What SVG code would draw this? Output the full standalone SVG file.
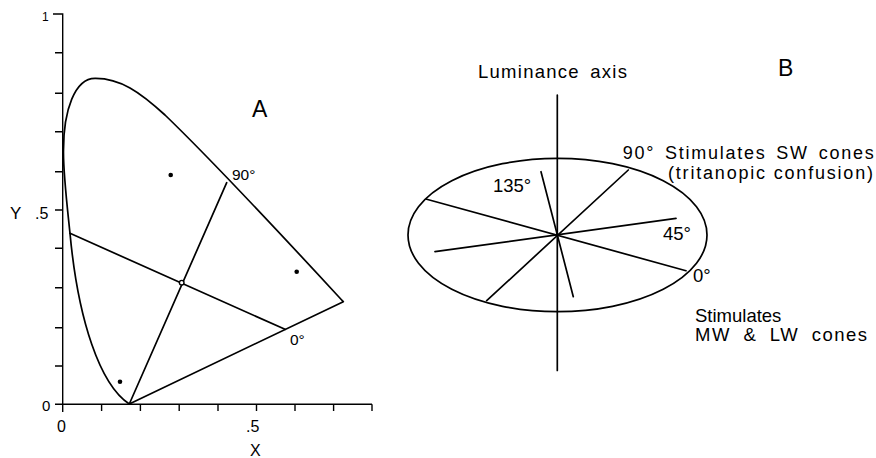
<svg xmlns="http://www.w3.org/2000/svg" width="876" height="458" viewBox="0 0 876 458">
<style>
.ln{fill:none;stroke:#000;stroke-width:1.7;stroke-linecap:round;stroke-linejoin:round}
.ax{fill:none;stroke:#000;stroke-width:1.4}
.t{font-family:"Liberation Sans",Arial,sans-serif;fill:#000}
.dot{fill:#000}
</style>
<rect width="876" height="458" fill="#fff"/>
<g id="panelA">
  <g id="axes">
    <path class="ax" d="M53,14 H62.7 V412 M55,404.3 H372"/>
    <path class="ax" d="M55,52.7H62.7 M55,93.3H62.7 M55,131.7H62.7 M55,171.7H62.7 M55,210H62.7 M55,248.3H62.7 M55,287.7H62.7 M55,327.7H62.7 M55,366H62.7"/>
    <path class="ax" d="M101.6,404.3V411 M140.4,404.3V411 M179.2,404.3V411 M218,404.3V411 M256.5,404.3V411 M295,404.3V411 M333.6,404.3V411 M372,404.3V411"/>
    <text class="t" x="42" y="21" font-size="12">1</text>
    <text class="t" x="10" y="218.5" font-size="17">Y</text>
    <text class="t" x="35" y="218.5" font-size="16">.5</text>
    <text class="t" x="42" y="410.5" font-size="15">0</text>
    <text class="t" x="57" y="431.5" font-size="16">0</text>
    <text class="t" x="246" y="431.5" font-size="16">.5</text>
    <text class="t" x="250" y="456" font-size="16">X</text>
  </g>
  <g id="locus">
    <path class="ln" d="M129.3,404 C100,385 78,320 70,233.3 C66,195 63,170 63.5,150 C63.5,110 75,78.3 95,78.3 C120,78 140,92 165,115 C220,168 290,244 343.3,301.7 L129.3,404"/>
  </g>
  <g id="connectorsA">
    <path class="ln" d="M129.3,404 L226.7,182.7"/>
    <path class="ln" d="M70,233.3 L285,329.3"/>
  </g>
  <g id="pointsA">
    <circle cx="181.7" cy="282.7" r="2.3" fill="#fff" stroke="#000" stroke-width="1.4"/>
    <circle class="dot" cx="170.7" cy="175" r="2.3"/>
    <circle class="dot" cx="296.7" cy="271.7" r="2.3"/>
    <circle class="dot" cx="120" cy="381.7" r="2.3"/>
  </g>
  <text class="t" x="252" y="117" font-size="23">A</text>
  <text class="t" x="232" y="180" font-size="15.5">90°</text>
  <text class="t" x="290" y="345" font-size="15.5">0°</text>
</g>
<g id="panelB">
  <g id="ellipse">
    <ellipse class="ln" cx="557.5" cy="235" rx="149.5" ry="76.7"/>
  </g>
  <g id="connectorsB">
    <path class="ln" d="M557.3,95 V370.5"/>
    <path class="ln" d="M628.3,170 L486.7,300.7"/>
    <path class="ln" d="M426.7,199.3 L686,270.7"/>
    <path class="ln" d="M435,251.7 L676,218.3"/>
    <path class="ln" d="M541,171.7 L573.3,296.7"/>
  </g>
  <g id="labelsB">
    <text class="t" x="478" y="77.5" font-size="18.5" textLength="149" lengthAdjust="spacing" word-spacing="4">Luminance axis</text>
    <text class="t" x="778" y="76" font-size="23">B</text>
    <text class="t" x="622.7" y="159" font-size="18" textLength="251" lengthAdjust="spacing" word-spacing="3">90° Stimulates SW cones</text>
    <text class="t" x="668" y="178.5" font-size="18" textLength="205" lengthAdjust="spacing">(tritanopic confusion)</text>
    <text class="t" x="493" y="191.7" font-size="18.5">135°</text>
    <text class="t" x="663" y="239.5" font-size="18.5">45°</text>
    <text class="t" x="693" y="281.7" font-size="18.5">0°</text>
    <text class="t" x="695" y="321.5" font-size="18.5">Stimulates</text>
    <text class="t" x="695" y="340.5" font-size="18.5" textLength="172" lengthAdjust="spacing" word-spacing="6">MW &amp; LW cones</text>
  </g>
</g>
</svg>
